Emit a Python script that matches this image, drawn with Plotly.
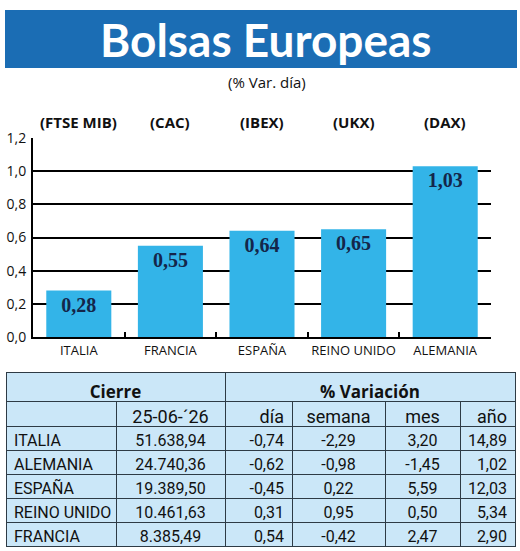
import plotly.graph_objects as go

# ---- data ----
countries = ["ITALIA", "FRANCIA", "ESPAÑA", "REINO UNIDO", "ALEMANIA"]
indices = ["(FTSE MIB)", "(CAC)", "(IBEX)", "(UKX)", "(DAX)"]
var_dia = [0.28, 0.55, 0.64, 0.65, 1.03]

tbl_countries = ["ITALIA", "ALEMANIA", "ESPAÑA", "REINO UNIDO", "FRANCIA"]
tbl_cierre = [51638.94, 24740.36, 19389.50, 10461.63, 8385.49]
tbl_dia = [-0.74, -0.62, -0.45, 0.31, 0.54]
tbl_semana = [-2.29, -0.98, 0.22, 0.95, -0.42]
tbl_mes = [3.20, -1.45, 5.59, 0.50, 2.47]
tbl_anio = [14.89, 1.02, 12.03, 5.34, 2.90]
fecha = "25-06-´26"
group_heads = ["<b>Cierre</b>", "<b>% Variación</b>"]
col_heads = ["", fecha, "día", "semana", "mes", "año"]

W, H = 520, 551
SANS = "Open Sans, Liberation Sans, sans-serif"
TSANS = "Roboto, Open Sans, sans-serif"


def es(v):
    s = f"{v:,.2f}"
    return s.replace(",", "X").replace(".", ",").replace("X", ".")


def px_x(p):
    return p / W


def px_y(p):
    return 1 - p / H


fig = go.Figure()

fig.add_trace(go.Bar(
    x=countries, y=var_dia, width=0.71,
    marker=dict(color="#33b4e8", line=dict(width=0)),
    texttemplate="%{y:.2f}", textposition="inside", insidetextanchor="end",
    textangle=0, constraintext="none",
    textfont=dict(family="Liberation Serif, serif", size=20, color="#14264a", weight="bold"),
    hoverinfo="skip",
))

for c, lab in zip(countries, indices):
    fig.add_annotation(x=c, xref="x", y=1.2, yref="y", yanchor="bottom", yshift=4,
                       text=f"<b>{lab}</b>", showarrow=False,
                       font=dict(family=SANS, size=15, color="#111"))

# ---- table ----
line_c = "#2e3b45"
fill_c = "#cbe7f8"
fig.add_trace(go.Table(
    domain=dict(x=[px_x(6), px_x(515)], y=[px_y(430), px_y(372)]),
    columnwidth=[219, 290],
    header=dict(values=group_heads, align="center",
                height=29, fill_color=fill_c, line=dict(color=line_c, width=1),
                font=dict(family=SANS, size=17, color="#111")),
    cells=dict(values=[[""], [""]], height=1, fill_color="rgba(0,0,0,0)",
               line=dict(width=0, color="rgba(0,0,0,0)"),
               font=dict(size=1)),
))

fig.add_trace(go.Table(
    domain=dict(x=[px_x(6), px_x(515)], y=[px_y(550), px_y(401)]),
    columnwidth=[110, 109, 67, 93, 75, 55],
    header=dict(values=col_heads,
                align=["left", "center", "right", "center", "center", "right"],
                height=25, fill_color=fill_c, line=dict(color=line_c, width=1),
                font=dict(family=TSANS, size=18, color="#111")),
    cells=dict(values=[[c.replace(" ", "\u00a0") for c in tbl_countries],
                       [es(v) for v in tbl_cierre],
                       [es(v) for v in tbl_dia],
                       [es(v) for v in tbl_semana],
                       [es(v) for v in tbl_mes],
                       [es(v) for v in tbl_anio]],
               align=["left", "center", "right", "center", "center", "right"],
               height=24, fill_color=fill_c, line=dict(color=line_c, width=1),
               font=dict(family=TSANS, size=16, color="#111")),
))

# ---- title banner ----
fig.add_shape(type="rect", xref="paper", yref="paper",
              x0=px_x(5), x1=px_x(517), y0=px_y(68), y1=px_y(10),
              fillcolor="#1b6db4", line=dict(width=0), layer="below")
fig.add_annotation(x=px_x(266), y=px_y(39), xref="paper", yref="paper",
                   xanchor="center", yanchor="middle",
                   text="<b>Bolsas Europeas</b>", showarrow=False,
                   font=dict(family="Lato, sans-serif", size=46, color="white"))
fig.add_annotation(x=px_x(267), y=px_y(82), xref="paper", yref="paper",
                   xanchor="center", yanchor="middle",
                   text="(% Var. día)", showarrow=False,
                   font=dict(family=SANS, size=15, color="#111"))

fig.update_layout(
    template="none",
    width=W, height=H, margin=dict(l=0, r=0, t=0, b=0, pad=0), autosize=False,
    paper_bgcolor="white", plot_bgcolor="white",
    separators=",.", showlegend=False, bargap=0.29,
    xaxis=dict(domain=[px_x(33), px_x(491)], type="category", automargin=False,
               showline=True, linecolor="black", linewidth=2,
               ticks="inside", tickson="boundaries", ticklen=5, tickwidth=2,
               tickcolor="black", showgrid=False, tickangle=0,
               tickfont=dict(family=SANS, size=13, color="#111")),
    yaxis=dict(domain=[px_y(337), px_y(138)], range=[0, 1.2], dtick=0.2, automargin=False,
               tickformat=".1f", showgrid=True, gridcolor="black", gridwidth=2,
               showline=True, linecolor="black", linewidth=2, zeroline=False,
               ticks="", ticklabelstandoff=2,
               tickfont=dict(family=SANS, size=14, color="#111")),
)

fig.write_html("out.html")
